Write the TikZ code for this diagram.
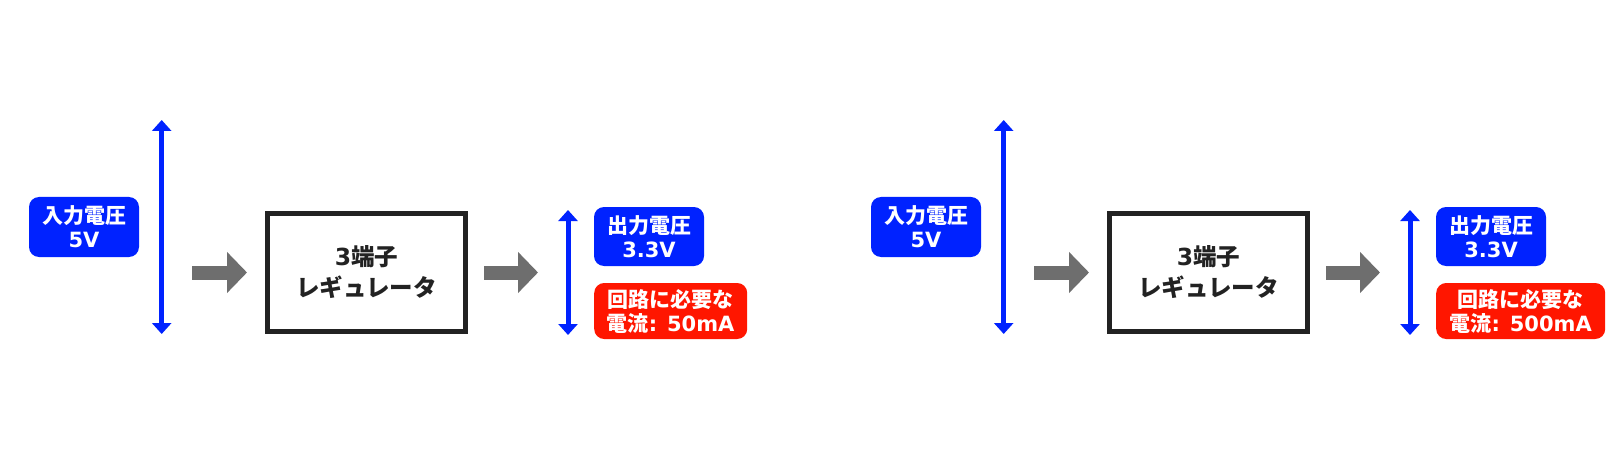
\documentclass[tikz,border=0pt]{standalone}
\usepackage{fontspec}
\setmainfont{DejaVu Sans}
\newfontfamily\cjk{Noto Sans CJK JP}
\usetikzlibrary{arrows.meta,positioning}

\definecolor{voltblue}{RGB}{0,34,255}
\definecolor{ampred}{RGB}{255,22,0}
\definecolor{flowgray}{RGB}{110,110,110}
\definecolor{framegray}{RGB}{34,34,34}

\tikzset{
  tagbox/.style={fill=#1, text=white, rounded corners=10pt, inner sep=0pt,
    align=center, font=\fontsize{21}{24}\selectfont\bfseries},
  volt/.style={draw=voltblue, line width=5pt,
    {Triangle[width=19pt,length=11pt]}-{Triangle[width=19pt,length=11pt]}},
  flow/.style={draw=flowgray, line width=14pt, -{Triangle[width=40pt,length=20pt]}},
  regbox/.style={draw=framegray, line width=5pt, text=framegray, align=center,
    minimum width=198pt, minimum height=118pt, inner sep=0pt,
    font=\fontsize{23.5}{31}\selectfont\bfseries}
}

\begin{document}
\begin{tikzpicture}[x=1pt,y=-1pt]
  \useasboundingbox (0,0) rectangle (1624,457);
  % two regulators side by side, only the load current differs
  \foreach \dx/\amp/\boxw in {0/50/153, 842/500/169}{
    \begin{scope}[xshift=\dx pt]
      % regulator
      \node[regbox] (reg\dx) at (366.5,272.5) {3{\cjk 端子}\\{\cjk レギュレータ}};
      % input side
      \node[tagbox=voltblue, minimum width=110pt, minimum height=60pt]
        (vin\dx) at (84,227) {{\cjk 入力電圧}\\5V};
      \coordinate (vintop\dx) at (161.7,120);
      \coordinate (vinbot\dx) at (161.7,334);
      \draw[volt] (vintop\dx) -- (vinbot\dx);
      \draw[flow] ([xshift=-73pt]reg\dx.west) -- ([xshift=-18pt]reg\dx.west);
      % output side
      \draw[flow] ([xshift=16pt]reg\dx.east) -- ([xshift=70pt]reg\dx.east);
      \coordinate (vouttop\dx) at (568,210);
      \coordinate (voutbot\dx) at (568,335);
      \draw[volt] (vouttop\dx) -- (voutbot\dx);
      \node[tagbox=voltblue, minimum width=110pt, minimum height=59pt]
        (vout\dx) at (649,236.5) {{\cjk 出力電圧}\\3.3V};
      \node[tagbox=ampred, minimum width=\boxw pt, minimum height=56pt,
        anchor=west] (iout\dx) at (594,311) {{\cjk 回路に必要な}\\{\cjk 電流}: \amp mA};
    \end{scope}
  }
\end{tikzpicture}
\end{document}
